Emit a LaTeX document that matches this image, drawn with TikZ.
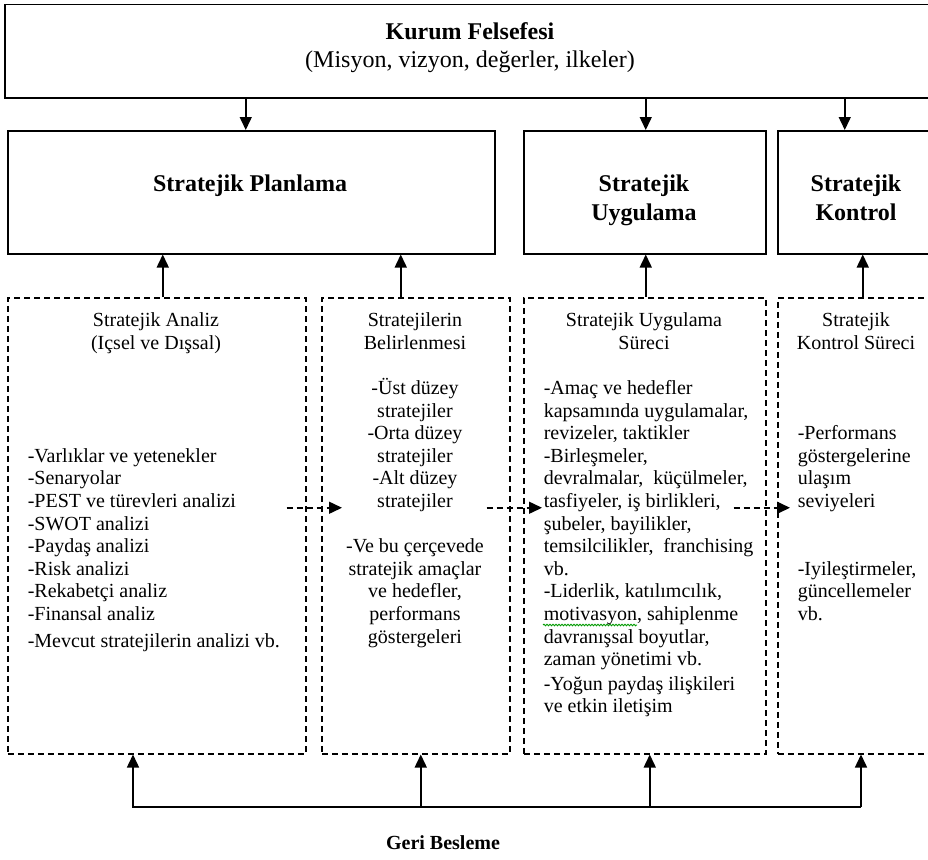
\documentclass[tikz,border=0pt]{standalone}
\usepackage{fontspec}
\setmainfont{Liberation Serif}
\usetikzlibrary{arrows.meta,calc,positioning,decorations.pathmorphing}

\begin{document}
\begin{tikzpicture}[x=1pt,y=-1pt,line width=1.5pt,
    solidbox/.style={draw,rectangle,inner sep=0pt,anchor=north west},
    dashbox/.style={solidbox,dash pattern=on 6pt off 4pt,minimum height=456},
    head/.style={font=\fontsize{24}{29}\selectfont\bfseries,inner sep=0pt,align=center},
    body/.style={font=\fontsize{20}{22.6}\selectfont,inner sep=0pt},
    arr/.style={-{Triangle[length=13pt,width=12pt]}},
    darr/.style={arr,dash pattern=on 6pt off 4pt},
    spell/.style={draw=green!60!black,line width=.9pt,decorate,decoration={snake,segment length=3pt,amplitude=.8pt}}]
  \useasboundingbox (0,0) rectangle (928,859);
  \clip (0,0) rectangle (928,859);
  \node[solidbox,minimum width=932,minimum height=93] (kurum) at (4,4) {};
  \node[solidbox,minimum width=487,minimum height=123] (plan) at (7,130) {};
  \node[solidbox,minimum width=242,minimum height=123] (uyg) at (523,130) {};
  \node[solidbox,minimum width=160,minimum height=123] (kont) at (777,130) {};
  \node[dashbox,minimum width=298] (analiz) at (7,297) {};
  \node[dashbox,minimum width=188] (belirle) at (321,297) {};
  \node[dashbox,minimum width=242] (uygsurec) at (523,297) {};
  \node[dashbox,minimum width=160] (kontsurec) at (777,297) {};

  \node[body,font=\fontsize{24}{28}\selectfont,align=center,anchor=north] (kurumT) at (470,19.4)
    {\strut\textbf{Kurum Felsefesi}\\(Misyon, vizyon, değerler, ilkeler)};
  \node[head,anchor=base] (planT) at (250,191) {Stratejik Planlama};
  \node[head,anchor=north] (uygT) at (644,170.7) {\strut Stratejik\\Uygulama};
  \node[head,anchor=north] (kontT) at (856,170.7) {\strut Stratejik\\Kontrol};

  \node[body,align=center,anchor=north] (analizT) at (156,310.2) {\strut Stratejik Analiz\\(Içsel ve Dışsal)};
  \node[body,align=left,anchor=north west] (analizL) at (27,445.8)
    {\strut -Varlıklar ve yetenekler\\-Senaryolar\\-PEST ve türevleri analizi\\-SWOT analizi\\-Paydaş analizi\\-Risk analizi\\-Rekabetçi analiz\\-Finansal analiz\\[4pt]-Mevcut stratejilerin analizi vb.};
  \node[body,align=center,anchor=north] (belirleT) at (415,310.2)
    {\strut Stratejilerin\\Belirlenmesi\\[22.6pt]-Üst düzey\\stratejiler\\-Orta düzey\\stratejiler\\-Alt düzey\\stratejiler\\[22.6pt]-Ve bu çerçevede\\stratejik amaçlar\\ve hedefler,\\performans\\göstergeleri};
  \node[body,align=center,anchor=north] (uygsurecT) at (644,310.2) {\strut Stratejik Uygulama\\Süreci};
  \node[body,align=left,anchor=north west] (uygsurecL) at (543,378)
    {\strut -Amaç ve hedefler\\kapsamında uygulamalar,\\revizeler, taktikler\\-Birleşmeler,\\devralmalar,~ küçülmeler,\\tasfiyeler, iş birlikleri,\\şubeler, bayilikler,\\temsilcilikler,~ franchising\\vb.\\-Liderlik, katılımcılık,\\motivasyon, sahiplenme\\davranışsal boyutlar,\\zaman yönetimi vb.\\[2pt]-Yoğun paydaş ilişkileri\\ve etkin iletişim};
  \draw[spell] ([yshift=-247]uygsurecL.north west) -- ++(94,0);
  \node[body,align=center,anchor=north] (kontsurecT) at (856,310.2) {\strut Stratejik\\Kontrol Süreci};
  \node[body,align=left,anchor=north west] (kontsurecL) at (797,423.2)
    {\strut -Performans\\göstergelerine\\ulaşım\\seviyeleri\\[45.2pt]-Iyileştirmeler,\\güncellemeler\\vb.};
  \node[body,font=\fontsize{20}{22.6}\selectfont\bfseries,anchor=base] (geri) at (443,849) {Geri Besleme};

  \draw[arr] ([xshift=-5.5]plan.north |- kurum.south) -- ([xshift=-5.5]plan.north);
  \draw[arr] ([xshift=1]uyg.north |- kurum.south) -- ([xshift=1]uyg.north);
  \draw[arr] ([xshift=-13]kont.north |- kurum.south) -- ([xshift=-13]kont.north);

  \coordinate (u1) at ([xshift=6]analiz.north);
  \coordinate (u2) at ([xshift=-15]belirle.north);
  \coordinate (u3) at ([xshift=1]uygsurec.north);
  \coordinate (u4) at ([xshift=5]kontsurec.north);
  \draw[arr] (u1) -- (u1 |- plan.south);
  \draw[arr] (u2) -- (u2 |- plan.south);
  \draw[arr] (u3) -- (u3 |- uyg.south);
  \draw[arr] (u4) -- (u4 |- kont.south);

  \draw[darr] ([xshift=-20,yshift=18]analiz.east) -- ([xshift=21,yshift=18]belirle.west);
  \draw[darr] ([xshift=-24,yshift=18]belirle.east) -- ([xshift=19,yshift=18]uygsurec.west);
  \draw[darr] ([xshift=-33,yshift=18]uygsurec.east) -- ([xshift=13,yshift=18]kontsurec.west);

  \coordinate (fbL) at (133,807);
  \coordinate (fbR) at (861,807);
  \coordinate (f2) at ([xshift=5]belirle.south);
  \coordinate (f3) at ([xshift=5]uygsurec.south);
  \draw[arr] (fbR) -- (fbL) -- (fbL |- analiz.south);
  \draw[arr] (fbR) -- (fbR |- kontsurec.south);
  \draw[arr] (f2 |- fbL) -- (f2);
  \draw[arr] (f3 |- fbL) -- (f3);
\end{tikzpicture}
\end{document}
